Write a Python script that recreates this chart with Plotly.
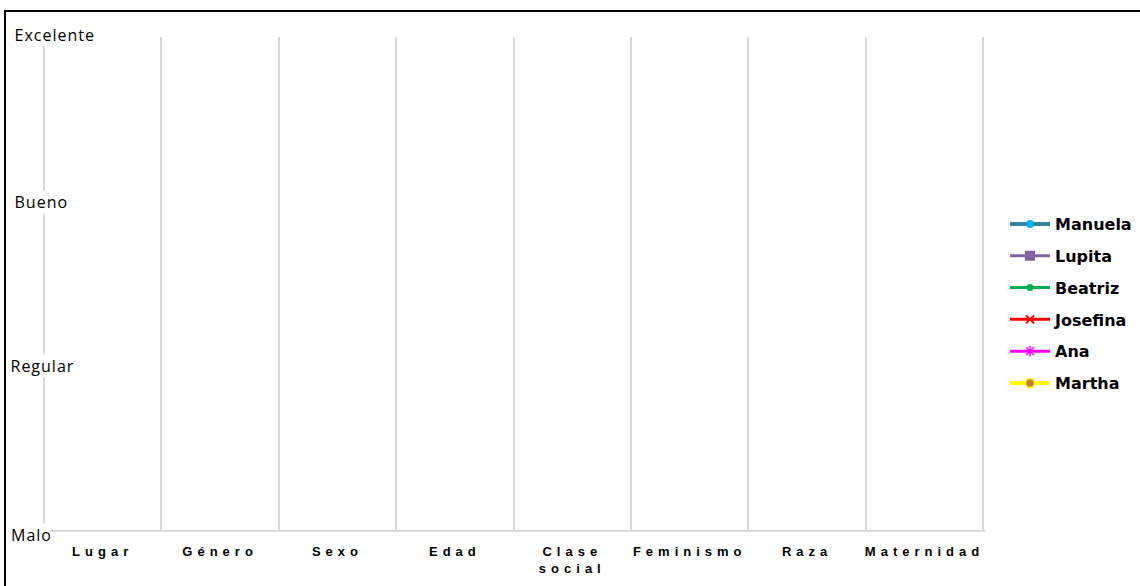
import plotly.graph_objects as go

# ---- data ----
categories = ["Lugar", "Género", "Sexo", "Edad", "Clase<br>social", "Feminismo", "Raza", "Maternidad"]
y_levels = [0, 1, 2, 3]
y_labels = ["Malo", "Regular", "Bueno", "Excelente"]

series_names = ["Manuela", "Lupita", "Beatriz", "Josefina", "Ana", "Martha"]
# No values are plotted in the reference chart (every series is empty)
manuela = [None] * 8
lupita = [None] * 8
beatriz = [None] * 8
josefina = [None] * 8
ana = [None] * 8
martha = [None] * 8
series_values = [manuela, lupita, beatriz, josefina, ana, martha]

x_pos = list(range(len(categories)))

# ---- styles ----
styles = [
    dict(line=dict(color="#31869B", width=4), marker=dict(symbol="circle", size=8, color="#00B0F0")),
    dict(line=dict(color="#8064A2", width=3), marker=dict(symbol="square", size=10, color="#8064A2")),
    dict(line=dict(color="#00B050", width=3), marker=dict(symbol="circle", size=7, color="#00B050")),
    dict(line=dict(color="#FF0000", width=3), marker=dict(symbol="x-thin-open", size=8, color="#FF0000",
                                                        line=dict(color="#FF0000", width=2))),
    dict(line=dict(color="#FF00FF", width=3), marker=dict(symbol="asterisk-open", size=9, color="#FF00FF",
                                                        line=dict(color="#FF00FF", width=1.5))),
    dict(line=dict(color="#FFFF00", width=4), marker=dict(symbol="circle", size=9, color="#C57A3A",
                                                        line=dict(color="#FFFF00", width=1.5))),
]

fig = go.Figure()
for name, vals, st in zip(series_names, series_values, styles):
    fig.add_trace(go.Scatter(
        x=x_pos, y=vals, name=name, mode="lines+markers",
        legendgroup=name, showlegend=True, connectgaps=False, **st,
    ))

label_shift = {"Malo": (0, -5), "Regular": (1, 0), "Bueno": (4, -1), "Excelente": (6, 2)}
annotations = [
    dict(xref="paper", yref="y", x=0, y=v, text=t, showarrow=False, xanchor="left",
         yanchor="middle", xshift=label_shift[t][0], yshift=label_shift[t][1],
         bgcolor="white", borderpad=0,
         font=dict(family="Open Sans", size=16, color="black"))
    for v, t in zip(y_levels, y_labels)
]

fig.update_layout(
    width=1140, height=586,
    margin=dict(l=12, r=155, t=37, b=56, autoexpand=False),
    paper_bgcolor="white", plot_bgcolor="white",
    showlegend=True,
    legend=dict(
        xref="container", yref="container",
        x=0.8816, y=0.482, xanchor="left", yanchor="middle",
        font=dict(family="DejaVu Sans", size=16, color="black", weight="bold"),
        tracegroupgap=8, itemwidth=40, bgcolor="rgba(0,0,0,0)",
    ),
    xaxis=dict(
        range=[-0.772, 7.515], tickvals=x_pos, ticktext=categories, showgrid=False,
        minor=dict(tick0=-0.5, dtick=1, showgrid=True, gridcolor="#D9D9D9", gridwidth=2, ticks=""),
        ticks="", showline=True, linecolor="#D9D9D9", linewidth=2, zeroline=False, fixedrange=True,
        tickfont=dict(family="Liberation Sans", size=13, color="black", weight="bold"),
        ticklabelstandoff=8, automargin=False,
    ),
    yaxis=dict(
        range=[0, 3], showticklabels=False, showgrid=False,
        zeroline=False, showline=False, ticks="", fixedrange=True, automargin=False,
    ),
    annotations=annotations,
    shapes=[dict(type="rect", xref="paper", yref="paper", x0=-0.0072, x1=1.3, y0=-0.3, y1=1.0527,
                 line=dict(color="black", width=2), fillcolor="rgba(0,0,0,0)", layer="above")],
)

post = """
var s = document.createElement('style');
s.textContent = '.xtick text{letter-spacing:5px;} .annotation-text{letter-spacing:1px;}';
document.head.appendChild(s);
"""
fig.write_html("out.html", post_script=post)
